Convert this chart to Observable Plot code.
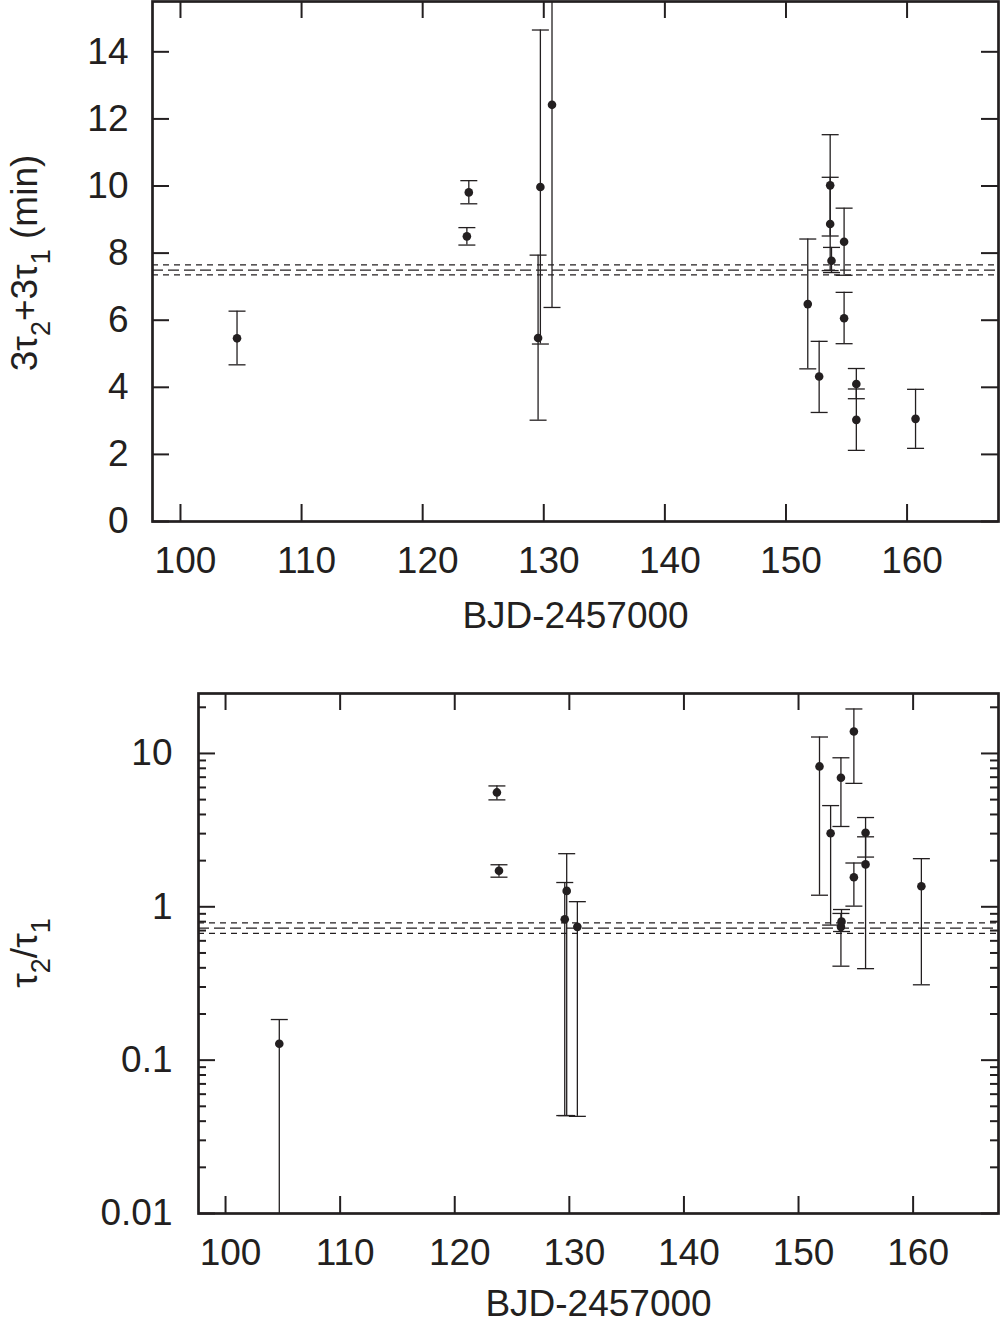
<!DOCTYPE html>
<html>
<head>
<meta charset="utf-8">
<script src="https://cdn.jsdelivr.net/npm/d3@7"></script>
<script src="https://cdn.jsdelivr.net/npm/@observablehq/plot@0.6"></script>
<style>
  body { margin: 0; background: #fff; }
  #chart { width: 1001px; }
  #chart svg { display: block; }
</style>
</head>
<body>
<div id="chart"></div>
<script>
const INK = "#231f20";
const FONT = "'Liberation Sans', Arial, Helvetica, sans-serif";

// ---------- shared x axis ----------
const xTicks = [100, 110, 120, 130, 140, 150, 160];
const xLabel = "BJD-2457000";

// ---------- top panel: 3τ2+3τ1 (min) ----------
const topX  = [104.67, 123.81, 123.65, 129.72, 129.53, 130.68, 151.80, 152.74, 153.65, 153.65, 153.76, 154.80, 154.80, 155.81, 155.81, 160.70];
const topY  = [5.46,   9.81,   8.50,   9.97,   5.47,   12.42,  6.48,   4.32,   10.02,  8.87,   7.77,   8.34,   6.06,   4.10,   3.03,   3.06];
const topLo = [4.67,   9.47,   8.24,   5.29,   3.02,   6.38,   4.55,   3.25,   8.51,   7.48,   7.42,   7.34,   5.30,   3.66,   2.12,   2.18];
const topHi = [6.27,   10.16,  8.76,   14.65,  7.94,   18.46,  8.42,   5.37,   11.53,  10.26,  8.17,   9.34,   6.83,   4.56,   3.95,   3.94];
const topYTicks = [0, 2, 4, 6, 8, 10, 12, 14];
const topMean = [7.49];
const topBand = [7.35, 7.65];

// ---------- bottom panel: τ2/τ1 ----------
const botX  = [104.69, 123.68, 123.86, 129.77, 129.60, 130.70, 151.83, 152.80, 153.70, 153.75, 153.70, 154.83, 154.83, 155.85, 155.85, 160.72];
const botY  = [0.128,  5.57,   1.72,   1.27,   0.83,   0.74,   8.23,   3.02,   6.95,   0.80,   0.74,   13.9,   1.56,   3.04,   1.89,   1.36];
const botLo = [0.005,  4.98,   1.56,   0.0435, 0.0435, 0.043,  1.19,   0.76,   3.34,   0.69,   0.41,   6.38,   1.01,   2.11,   0.395,  0.31];
const botHi = [0.184,  6.14,   1.88,   2.22,   1.44,   1.08,   12.8,   4.57,   9.37,   0.96,   0.905,  19.5,   1.93,   3.82,   2.86,   2.06];
const botYTicks = [0.01, 0.1, 1, 10];
const botYMinor = [0.02, 0.03, 0.04, 0.05, 0.06, 0.07, 0.08, 0.09,
                   0.2, 0.3, 0.4, 0.5, 0.6, 0.7, 0.8, 0.9,
                   2, 3, 4, 5, 6, 7, 8, 9, 20];
const botMean = [0.725];
const botBand = [0.67, 0.785];

const capSymbol = {
  draw(context, size) {
    const r = Math.sqrt(size / Math.PI);
    context.moveTo(-r, 0);
    context.lineTo(r, 0);
  }
};

function panel(cfg) {
  const rows = cfg.xs.map((x, i) => ({x, y: cfg.ys[i], lo: cfg.los[i], hi: cfg.his[i]}));
  const plotW = cfg.width - cfg.marginLeft - cfg.marginRight;
  const plotH = cfg.height - cfg.marginTop - cfg.marginBottom;
  const major = 17, minor = 8;
  const marks = [
    Plot.ruleY(cfg.band, {y: d => d, stroke: INK, strokeWidth: 1.2, strokeDasharray: "6,5"}),
    Plot.ruleY(cfg.mean, {y: d => d, stroke: INK, strokeWidth: 1.2, strokeDasharray: "11,5"}),
    Plot.ruleX(rows, {x: "x", y1: "lo", y2: "hi", stroke: INK, strokeWidth: 1.3, clip: true}),
    Plot.dot(rows, {x: "x", y: "lo", symbol: capSymbol, r: 8.5, fill: "none", stroke: INK, strokeWidth: 1.3, clip: true}),
    Plot.dot(rows, {x: "x", y: "hi", symbol: capSymbol, r: 8.5, fill: "none", stroke: INK, strokeWidth: 1.3, clip: true}),
    Plot.dot(rows, {x: "x", y: "y", r: 4.3, fill: INK, stroke: "none"}),
    Plot.tickX(xTicks, {x: d => d, insetTop: plotH - major, stroke: INK, strokeWidth: 2}),
    Plot.tickX(xTicks, {x: d => d, insetBottom: plotH - major, stroke: INK, strokeWidth: 2}),
    Plot.tickY(cfg.yTicks, {y: d => d, insetRight: plotW - major, stroke: INK, strokeWidth: 2}),
    Plot.tickY(cfg.yTicks, {y: d => d, insetLeft: plotW - major, stroke: INK, strokeWidth: 2}),
  ];
  if (cfg.yMinor) {
    marks.push(
      Plot.tickY(cfg.yMinor, {y: d => d, insetRight: plotW - minor, stroke: INK, strokeWidth: 2}),
      Plot.tickY(cfg.yMinor, {y: d => d, insetLeft: plotW - minor, stroke: INK, strokeWidth: 2})
    );
  }
  marks.push(
    Plot.axisX(xTicks, {tickSize: 0, tickPadding: 25, dx: 5, fontSize: 37, fill: INK, label: null}),
    Plot.axisY(cfg.yTicks, {tickSize: 0, tickPadding: cfg.yPad, fontSize: 37, fill: INK, label: null,
                            tickFormat: cfg.yFormat}),
    Plot.text([xLabel], {text: d => d, frameAnchor: "bottom", dy: cfg.xLabelDy, lineAnchor: "middle", fontSize: 37, fill: INK}),
    Plot.frame({stroke: INK, strokeWidth: 2.7})
  );
  const svg = Plot.plot({
    width: cfg.width,
    height: cfg.height,
    marginLeft: cfg.marginLeft,
    marginRight: cfg.marginRight,
    marginTop: cfg.marginTop,
    marginBottom: cfg.marginBottom,
    style: {fontFamily: FONT, fontSize: "37px", color: INK, background: "#fff", overflow: "visible"},
    x: {domain: cfg.xDomain},
    y: {type: cfg.yType, domain: cfg.yDomain},
    marks
  });
  const cy = cfg.marginTop + plotH / 2 + (cfg.labelShift || 0);
  const t = d3.select(svg).append("text")
    .attr("transform", `translate(${cfg.labelX},${cy}) rotate(-90)`)
    .attr("text-anchor", "middle")
    .attr("font-family", FONT)
    .attr("font-size", 37)
    .attr("fill", INK);
  let lowered = false;
  for (const [s, sub] of cfg.labelParts) {
    if (sub) {
      t.append("tspan").attr("font-size", 27).attr("dy", 13).text(s);
      lowered = true;
    } else {
      t.append("tspan").attr("dy", lowered ? -13 : 0).text(s);
      lowered = false;
    }
  }
  return svg;
}

const chart = document.getElementById("chart");

chart.append(panel({
  xs: topX, ys: topY, los: topLo, his: topHi,
  width: 1001, height: 650,
  marginLeft: 152, marginRight: 3, marginTop: 1, marginBottom: 129,
  xDomain: [97.69, 167.55],
  yType: "linear", yDomain: [0, 15.5],
  yTicks: topYTicks, yMinor: null, yPad: 24,
  yFormat: d => String(d),
  mean: topMean, band: topBand,
  xLabelDy: 95,
  labelX: 37, labelShift: 2,
  labelParts: [["3τ", false], ["2", true], ["+3τ", false], ["1", true], [" (min)", false]]
}));

chart.append(panel({
  xs: botX, ys: botY, los: botLo, his: botHi,
  width: 1001, height: 672,
  marginLeft: 198, marginRight: 3, marginTop: 43, marginBottom: 109,
  xDomain: [97.64, 167.45],
  yType: "log", yDomain: [0.01, 24.6],
  yTicks: botYTicks, yMinor: botYMinor, yPad: 26,
  yFormat: d => String(d),
  mean: botMean, band: botBand,
  xLabelDy: 91,
  labelX: 37, labelShift: 0,
  labelParts: [["τ", false], ["2", true], ["/τ", false], ["1", true]]
}));
</script>
</body>
</html>
